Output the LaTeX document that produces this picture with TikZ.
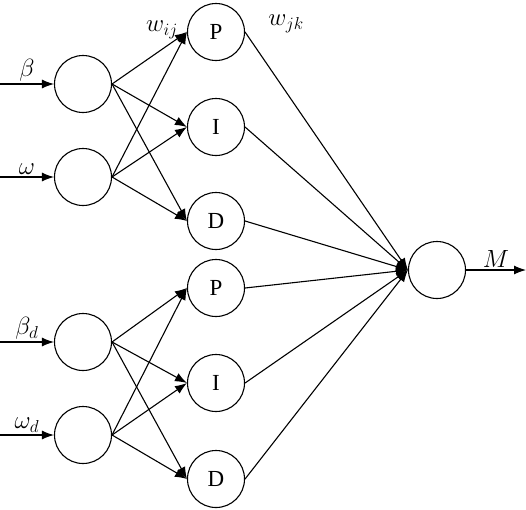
\documentclass[tikz,border=0pt]{standalone}
\usepackage{fontspec}
\setmainfont{Liberation Serif}
\usetikzlibrary{arrows.meta,positioning}

\begin{document}
\begin{tikzpicture}[x=1pt,y=-1pt,line width=1.1pt,>={Latex[length=12pt,width=9pt]},
                neuron/.style={circle,draw,minimum size=57pt,inner sep=0pt,font=\fontsize{23}{27}\selectfont},
                lab/.style={font=\fontsize{23}{27}\selectfont,inner sep=2pt}]
                \useasboundingbox (0,0) rectangle (526,509);
                % input layer
                \node[neuron] (x_1) at (83,84) {};
                \node[neuron] (x_2) at (83,177) {};
                \node[neuron] (x_3) at (83,342) {};
                \node[neuron] (x_4) at (83,435) {};
                % hidden layer
                \node[neuron] (h_1) at (216,32) {P};
                \node[neuron] (h_2) at (216,127) {I};
                \node[neuron] (h_3) at (216,221) {D};
                \node[neuron] (h_4) at (216,288) {P};
                \node[neuron] (h_5) at (216,383) {I};
                \node[neuron] (h_6) at (216,479) {D};
                % output layer
                \node[neuron] (y) at (437,270) {};
                \coordinate (in_1) at (0,84);
                \coordinate (in_2) at (0,177);
                \coordinate (in_3) at (0,342);
                \coordinate (in_4) at (0,435);
                \coordinate (out) at (526,270);
                \path[->]
                (in_1) edge node[lab,above] {$\beta$} (x_1)
                (in_2) edge node[lab,above] {$\omega$} (x_2)
                (in_3) edge node[lab,above] {$\beta_d$} (x_3)
                (in_4) edge node[lab,above] {$\omega_d$} (x_4)
                (y) edge node[lab,above] {$M$} (out);
                \foreach \i in {1,2} {
                    \foreach \j in {1,2,3} {
                        \draw[->] (x_\i.east) -- (h_\j.west);
                    }
                }
                \foreach \i in {3,4} {
                    \foreach \j in {4,5,6} {
                        \draw[->] (x_\i.east) -- (h_\j.west);
                    }
                }
                \foreach \j in {1,...,6} {
                    \draw[->] (h_\j.east) -- (y.west);
                }
                \node[lab] (w_ij) at (162,30) {$w_{ij}$};
                \node[lab] (w_jk) at (286,24) {$w_{jk}$};
            \end{tikzpicture}
\end{document}
